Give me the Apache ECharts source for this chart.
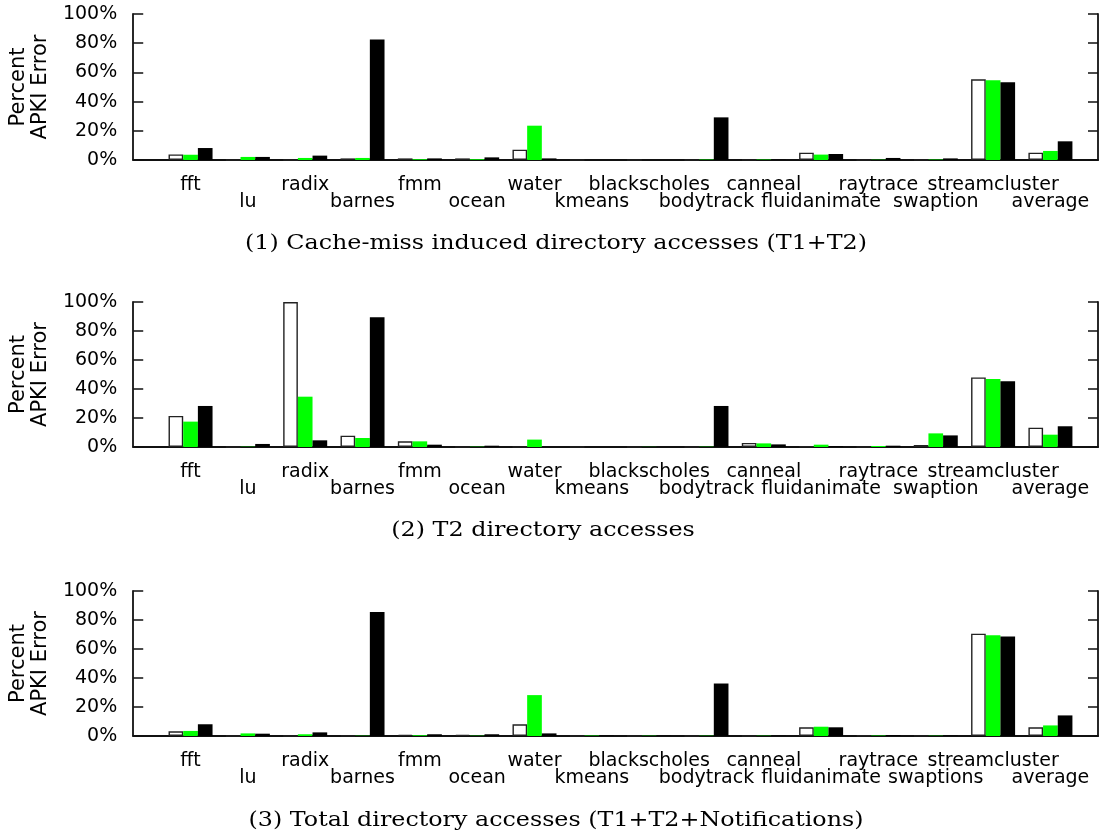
<!DOCTYPE html>
<html>
<head>
<meta charset="utf-8">
<title>APKI Error</title>
<script src="https://cdn.jsdelivr.net/npm/echarts@6/dist/echarts.min.js"></script>
<style>
  html, body { margin: 0; padding: 0; background: #fff; }
  #chart { width: 1113px; height: 840px; }
</style>
</head>
<body>
<div id="chart"></div>
<script>
// Benchmarks along the x axis (labels alternate between two rows)
const categories = ['fft', 'lu', 'radix', 'barnes', 'fmm', 'ocean', 'water', 'kmeans',
  'blackscholes', 'bodytrack', 'canneal', 'fluidanimate', 'raytrace', 'swaption',
  'streamcluster', 'average'];
const categoriesTotal = ['fft', 'lu', 'radix', 'barnes', 'fmm', 'ocean', 'water', 'kmeans',
  'blackscholes', 'bodytrack', 'canneal', 'fluidanimate', 'raytrace', 'swaptions',
  'streamcluster', 'average'];

const yTicks = [0, 20, 40, 60, 80, 100];

// (1) Cache-miss induced directory accesses (T1+T2), percent APKI error
const missWhite = [3.8, 0, 0, 1.1, 1.1, 1.1, 7.1, 0, 0, 0, 0.2, 5.0, 0, 0.2, 55.3, 5.0];
const missGreen = [3.6, 2.1, 1.4, 1.4, 0.5, 0.5, 23.5, 0, 0, 0.3, 0.3, 3.7, 0.2, 0.3, 54.6, 6.2];
const missBlack = [8.2, 2.1, 3.0, 82.6, 1.1, 1.8, 1.1, 0, 0, 29.2, 0.2, 4.1, 1.4, 1.1, 53.2, 12.8];

// (2) T2 directory accesses
const t2White = [21.4, 0, 100, 7.8, 3.9, 0, 0, 0, 0, 0, 2.8, 0.3, 0, 1.4, 48.0, 13.3];
const t2Green = [17.5, 0.2, 34.7, 6.2, 3.9, 0.2, 5.1, 0, 0.1, 0.2, 2.5, 1.6, 0.7, 9.4, 46.9, 8.5];
const t2Black = [28.3, 2.1, 4.6, 89.4, 1.6, 0.9, 0, 0, 0, 28.3, 1.8, 0.5, 0.9, 8.0, 45.3, 14.3];

// (3) Total directory accesses (T1+T2+Notifications)
const totWhite = [3.2, 0, 0, 0.2, 0.9, 0.9, 8.1, 0, 0, 0, 0, 6.0, 0.3, 0.2, 70.6, 6.0];
const totGreen = [3.5, 1.8, 1.2, 0.2, 0.5, 0.2, 28.2, 0.3, 0.2, 0.2, 0.2, 6.4, 0.3, 0.2, 69.5, 7.3];
const totBlack = [8.1, 1.6, 2.5, 85.5, 1.2, 1.2, 1.8, 0.3, 0.2, 36.2, 0.2, 6.0, 0.7, 0.3, 68.6, 14.2];

const captions = [
  '(1) Cache-miss induced directory accesses (T1+T2)',
  '(2) T2 directory accesses',
  '(3) Total directory accesses (T1+T2+Notifications)'
];

const panels = [
  { cats: categories, white: missWhite, green: missGreen, black: missBlack },
  { cats: categories, white: t2White, green: t2Green, black: t2Black },
  { cats: categoriesTotal, white: totWhite, green: totGreen, black: totBlack }
];

// Layout of the three stacked panels
const gridTops = [14, 302, 591];
const gridHeights = [146, 145, 145];
const captionPos = [[556, 244], [543, 531], [556, 821]];

const SANS = 'DejaVu Sans';
const SERIF = 'DejaVu Serif';
const AXIS_COLOR = '#111';

const grid = [], xAxis = [], yAxis = [], series = [], graphic = [];

panels.forEach((p, k) => {
  grid.push({ left: 133, right: 15, top: gridTops[k], height: gridHeights[k], containLabel: false });

  xAxis.push({
    type: 'value', gridIndex: k, min: -1, max: 15.83, interval: 1,
    axisLine: { show: true, onZero: false, lineStyle: { color: AXIS_COLOR, width: 1.8 } },
    axisTick: { show: false },
    splitLine: { show: false },
    axisLabel: {
      show: true, margin: 17, color: '#000', fontFamily: SANS, fontSize: 19, lineHeight: 17,
      showMinLabel: false, showMaxLabel: false,
      formatter: function (v) {
        const i = Math.round(v);
        if (Math.abs(v - i) > 1e-6 || i < 0 || i >= p.cats.length) return '';
        return i % 2 ? '\n' + p.cats[i] : p.cats[i];
      }
    }
  });

  const yCommon = {
    type: 'value', gridIndex: k, min: yTicks[0], max: yTicks[yTicks.length - 1], interval: 20,
    axisLine: { show: true, onZero: false, lineStyle: { color: AXIS_COLOR, width: 1.8 } },
    axisTick: { show: true, inside: true, length: 10, lineStyle: { color: AXIS_COLOR, width: 1.5 } },
    splitLine: { show: false }
  };
  yAxis.push(Object.assign({}, yCommon, {
    position: 'left',
    name: 'Percent\nAPKI Error', nameLocation: 'middle', nameGap: 81, nameRotate: 90,
    nameTextStyle: { fontFamily: SANS, fontSize: 21, lineHeight: 22, color: '#000', align: 'center' },
    axisLabel: { show: true, margin: 16, color: '#000', fontFamily: SANS, fontSize: 19,
      formatter: '{value}%' }
  }));
  yAxis.push(Object.assign({}, yCommon, { position: 'right', axisLabel: { show: false } }));

  const toPairs = arr => arr.map((v, i) => [i, v]);
  const common = { type: 'bar', xAxisIndex: k, yAxisIndex: 2 * k, barWidth: 14.67, barGap: '0%',
    animation: false, silent: true };
  series.push(Object.assign({}, common, {
    name: 'white', data: toPairs(p.white),
    itemStyle: { color: '#ffffff', borderColor: '#222', borderWidth: 1.4 }
  }));
  series.push(Object.assign({}, common, {
    name: 'green', data: toPairs(p.green),
    itemStyle: { color: '#00ff00' }
  }));
  series.push(Object.assign({}, common, {
    name: 'black', data: toPairs(p.black),
    itemStyle: { color: '#000000' }
  }));

  // Caption under each panel, set in a slightly widened serif face
  graphic.push({
    type: 'text', x: captionPos[k][0], y: captionPos[k][1], scaleX: 1.19, silent: true,
    style: { text: captions[k], fill: '#000', font: '20px "' + SERIF + '"',
      align: 'center', verticalAlign: 'middle' }
  });
});

const chart = echarts.init(document.getElementById('chart'), null, { renderer: 'canvas' });
chart.setOption({
  animation: false,
  backgroundColor: '#ffffff',
  grid, xAxis, yAxis, series, graphic
});
</script>
</body>
</html>
